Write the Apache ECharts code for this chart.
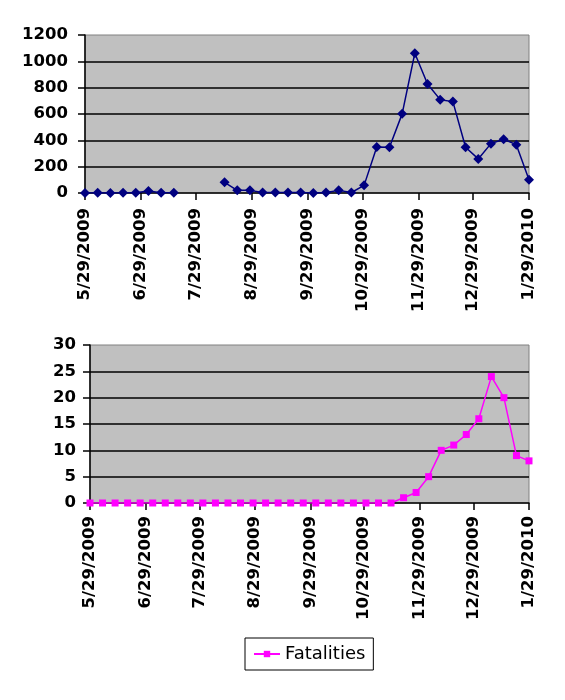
<!DOCTYPE html>
<html>
<head>
<meta charset="utf-8">
<script src="https://cdn.jsdelivr.net/npm/echarts@6/dist/echarts.min.js"></script>
<style>
html,body{margin:0;padding:0;background:#fff;}
#chart{width:565px;height:700px;}
</style>
</head>
<body>
<div id="chart"></div>
<script>
// Weekly observation dates
var weekDates = [
  '5/29/2009','6/5/2009','6/12/2009','6/19/2009','6/26/2009','7/3/2009','7/10/2009','7/17/2009',
  '7/24/2009','7/31/2009','8/7/2009','8/14/2009','8/21/2009','8/28/2009','9/4/2009','9/11/2009',
  '9/18/2009','9/25/2009','10/2/2009','10/9/2009','10/16/2009','10/23/2009','10/30/2009','11/6/2009',
  '11/13/2009','11/20/2009','11/27/2009','12/4/2009','12/11/2009','12/18/2009','12/25/2009','1/1/2010',
  '1/8/2010','1/15/2010','1/22/2010','1/29/2010'
];
// Top panel values (null = no data)
var casesValues = [
  0, 2, 0, 2, 2, 15, 2, 2,
  null, null, null, 81, 20, 20, 4, 4,
  4, 4, 0, 4, 20, 4, 58, 350,
  347, 601, 1062, 828, 709, 694, 347, 259,
  375, 408, 367, 100
];
// Bottom panel values
var fatalityValues = [
  0, 0, 0, 0, 0, 0, 0, 0,
  0, 0, 0, 0, 0, 0, 0, 0,
  0, 0, 0, 0, 0, 0, 0, 0,
  0, 1, 2, 5, 10, 11, 13, 16,
  24, 20, 9, 8
];
// X axis tick labels (monthly)
var tickLabels = ['5/29/2009','6/29/2009','7/29/2009','8/29/2009','9/29/2009','10/29/2009','11/29/2009','12/29/2009','1/29/2010'];

function dayNum(s) {
  var p = s.split('/');
  return Date.UTC(+p[2], +p[0] - 1, +p[1]) / 86400000;
}
var d0 = dayNum(tickLabels[0]);
function dayOff(s) { return dayNum(s) - d0; }
var tickDays = tickLabels.map(dayOff);
var xMax = tickDays[tickDays.length - 1];
function labelFor(v) {
  var i = tickDays.indexOf(Math.round(v));
  return i >= 0 ? tickLabels[i] : '';
}
var casesData = weekDates.map(function (d, i) {
  return [dayOff(d), casesValues[i] === null ? '-' : casesValues[i]];
});
var fatalData = weekDates.map(function (d, i) {
  return [dayOff(d), fatalityValues[i]];
});

var FONT = 'DejaVu Sans';
var FS = 16.5;
var FW = 'bold';

function xAxisCfg(gridIndex, margin) {
  return {
    type: 'value', gridIndex: gridIndex, min: 0, max: xMax,
    axisLine: { show: true, onZero: false, lineStyle: { color: '#000', width: 1.5 } },
    axisTick: { show: true, inside: false, length: 7, customValues: tickDays, lineStyle: { color: '#000', width: 1.5 } },
    axisLabel: {
      show: true, rotate: 90, margin: margin, customValues: tickDays,
      formatter: labelFor, color: '#000', fontFamily: FONT, fontSize: FS, fontWeight: FW
    },
    splitLine: { show: false }
  };
}
function yAxisCfg(gridIndex, max, interval, margin) {
  return {
    type: 'value', gridIndex: gridIndex, min: 0, max: max, interval: interval,
    axisLine: { show: true, lineStyle: { color: '#000', width: 1.5 } },
    axisTick: { show: true, inside: false, length: 7, lineStyle: { color: '#000', width: 1.5 } },
    axisLabel: { margin: margin, color: '#000', fontFamily: FONT, fontSize: FS, fontWeight: FW,
      formatter: function (v) { return String(v); } },
    splitLine: { show: true, showMinLine: false, showMaxLine: false, lineStyle: { color: '#000', width: 1.5 } }
  };
}

var chart = echarts.init(document.getElementById('chart'), null, { renderer: 'canvas' });
chart.setOption({
  animation: false,
  backgroundColor: '#fff',
  textStyle: { fontFamily: FONT },
  grid: [
    { left: 85, right: 36, top: 35, height: 158, show: true, backgroundColor: '#C0C0C0', borderColor: '#808080', borderWidth: 1 },
    { left: 90, right: 36, top: 345, height: 158, show: true, backgroundColor: '#C0C0C0', borderColor: '#808080', borderWidth: 1 }
  ],
  xAxis: [xAxisCfg(0, 15), xAxisCfg(1, 13)],
  yAxis: [yAxisCfg(0, 1200, 200, 17), yAxisCfg(1, 30, 5, 14)],
  legend: {
    data: ['Fatalities'],
    left: 245, top: 638,
    padding: [7, 8],
    itemWidth: 26, itemHeight: 8, itemGap: 5,
    borderColor: '#000', borderWidth: 1,
    textStyle: { color: '#000', fontFamily: FONT, fontSize: 18, fontWeight: 'normal' }
  },
  series: [
    {
      name: 'Cases', type: 'line', xAxisIndex: 0, yAxisIndex: 0,
      data: casesData, connectNulls: false,
      symbol: 'diamond', symbolSize: 10,
      lineStyle: { color: '#000080', width: 1.5 },
      itemStyle: { color: '#000080' }
    },
    {
      name: 'Fatalities', type: 'line', xAxisIndex: 1, yAxisIndex: 1,
      data: fatalData,
      symbol: 'rect', symbolSize: 7,
      lineStyle: { color: '#FF00FF', width: 1.5 },
      itemStyle: { color: '#FF00FF' }
    }
  ]
});
</script>
</body>
</html>
